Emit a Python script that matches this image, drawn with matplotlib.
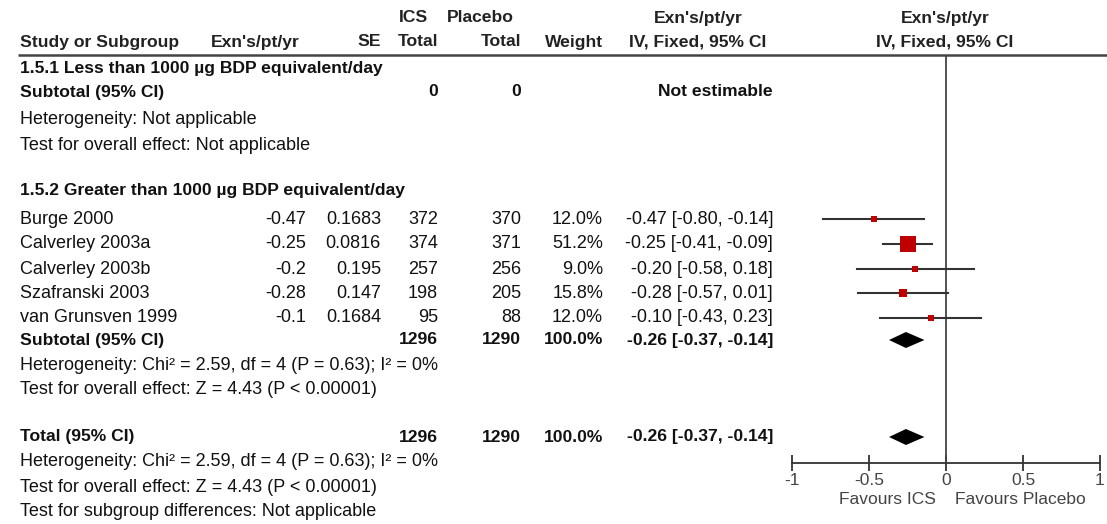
import matplotlib
matplotlib.use("Agg")
import matplotlib.pyplot as plt

plt.rcParams['font.family'] = ['Liberation Sans', 'DejaVu Sans']
plt.rcParams['axes.unicode_minus'] = False

# data
studies = ["Burge 2000", "Calverley 2003a", "Calverley 2003b", "Szafranski 2003", "van Grunsven 1999"]
exn = [-0.47, -0.25, -0.2, -0.28, -0.1]
se = [0.1683, 0.0816, 0.195, 0.147, 0.1684]
ics_total = [372, 374, 257, 198, 95]
pla_total = [370, 371, 256, 205, 88]
weight = [12.0, 51.2, 9.0, 15.8, 12.0]
ci_lo = [-0.80, -0.41, -0.58, -0.57, -0.43]
ci_hi = [-0.14, -0.09, 0.18, 0.01, 0.23]
pooled = [-0.26, -0.37, -0.14]  # estimate, low, high
ticks = [-1, -0.5, 0, 0.5, 1]
tick_labels = ["-1", "-0.5", "0", "0.5", "1"]

W, H = 1107, 524
fig = plt.figure(figsize=(W / 100, H / 100), dpi=100)
tab = fig.add_axes([0, 0, 1, 1])
tab.set_xlim(0, W)
tab.set_ylim(H, 0)
tab.axis('off')

FS = 13
FSB = 12.6
TXT = '#111111'


def put(x, y, s, ha='left', bold=False, color=TXT, size=None):
    if size is None:
        size = FSB if bold else FS
    tab.text(x, y, s, ha=ha, va='center', fontsize=size, color=color,
             fontweight='bold' if bold else 'normal')


# column right edges (px)
x_study = 20
x_exn, x_se, x_ics, x_pla, x_w, x_ci = 306, 381, 438, 521, 603, 773
x_ci_c = 698
x_plot_c = 945
HDR = '#222222'

# header
put(413, 18, "ICS", ha='center', bold=True, color=HDR)
put(447, 18, "Placebo", ha='left', bold=True, color=HDR)
put(x_ci_c, 18, "Exn's/pt/yr", ha='center', bold=True, color=HDR)
put(x_plot_c, 18, "Exn's/pt/yr", ha='center', bold=True, color=HDR)
put(x_study, 42, "Study or Subgroup", bold=True, color=HDR)
put(x_exn - 6, 42, "Exn's/pt/yr", ha='right', bold=True, color=HDR)
put(x_se, 42, "SE", ha='right', bold=True, color=HDR)
put(x_ics, 42, "Total", ha='right', bold=True, color=HDR)
put(x_pla, 42, "Total", ha='right', bold=True, color=HDR)
put(x_w, 42, "Weight", ha='right', bold=True, color=HDR)
put(x_ci_c, 42, "IV, Fixed, 95% CI", ha='center', bold=True, color=HDR)
put(x_plot_c, 42, "IV, Fixed, 95% CI", ha='center', bold=True, color=HDR)
tab.plot([18, W], [55, 55], color='#444444', lw=1.8, solid_capstyle='butt')

# subgroup 1.5.1
put(x_study, 68, "1.5.1 Less than 1000 µg BDP equivalent/day", bold=True)
put(x_study, 92, "Subtotal (95% CI)", bold=True)
put(x_ics, 92, "0", ha='right', bold=True)
put(x_pla, 92, "0", ha='right', bold=True)
put(x_ci, 92, "Not estimable", ha='right', bold=True)
put(x_study, 120, "Heterogeneity: Not applicable")
put(x_study, 145, "Test for overall effect: Not applicable")

# subgroup 1.5.2
put(x_study, 191, "1.5.2 Greater than 1000 µg BDP equivalent/day", bold=True)
rows = [219, 244, 269, 293, 318]
for i, y in enumerate(rows):
    put(x_study, y, studies[i])
    put(x_exn, y, str(exn[i]), ha='right')
    put(x_se, y, str(se[i]), ha='right')
    put(x_ics, y, str(ics_total[i]), ha='right')
    put(x_pla, y, str(pla_total[i]), ha='right')
    put(x_w, y, f"{weight[i]:.1f}%", ha='right')
    put(x_ci, y, f"{exn[i]:.2f} [{ci_lo[i]:.2f}, {ci_hi[i]:.2f}]", ha='right')

sub_txt = f"{pooled[0]:.2f} [{pooled[1]:.2f}, {pooled[2]:.2f}]"
for y, label in [(340, "Subtotal (95% CI)"), (437, "Total (95% CI)")]:
    put(x_study, y, label, bold=True)
    put(x_ics, y, str(sum(ics_total)), ha='right', bold=True)
    put(x_pla, y, str(sum(pla_total)), ha='right', bold=True)
    put(x_w, y, f"{sum(weight):.1f}%", ha='right', bold=True)
    put(x_ci, y, sub_txt, ha='right', bold=True)

het = "Heterogeneity: Chi² = 2.59, df = 4 (P = 0.63); I² = 0%"
eff = "Test for overall effect: Z = 4.43 (P < 0.00001)"
put(x_study, 366, het)
put(x_study, 390, eff)
put(x_study, 462, het)
put(x_study, 487, eff)
put(x_study, 511, "Test for subgroup differences: Not applicable")

# forest panel
x0, x1, ytop, ybot = 792, 1100, 55, 463
fax = fig.add_axes([x0 / W, 1 - ybot / H, (x1 - x0) / W, (ybot - ytop) / H])
fax.set_xlim(-1, 1)
fax.set_ylim(ybot, ytop)
fax.patch.set_alpha(0)
for s in ['top', 'left', 'right']:
    fax.spines[s].set_visible(False)
fax.spines['bottom'].set_color('#333333')
fax.spines['bottom'].set_linewidth(1.3)
fax.set_yticks([])
fax.set_xticks(ticks)
fax.set_xticklabels(tick_labels)
fax.tick_params(axis='x', direction='inout', length=12, width=1.3, color='#333333',
                labelcolor='#444444', labelsize=12.5, pad=1)
fax.axvline(0, color='#444444', lw=1.3)

for i, y in enumerate(rows):
    fax.plot([ci_lo[i], ci_hi[i]], [y, y], color='#333333', lw=1.5, zorder=2)
    side = 16 * (weight[i] / max(weight)) ** 0.62
    fax.scatter([exn[i]], [y], marker='s', s=(side * 0.72) ** 2, color='#c00000',
                linewidths=0, zorder=3)

for y in [340, 437]:
    fax.fill([pooled[1], pooled[0], pooled[2], pooled[0]], [y, y - 8, y, y + 8],
             color='black', lw=0, zorder=3, clip_on=False)

put(936, 500, "Favours ICS", ha='right', color='#444444', size=12.5)
put(955, 500, "Favours Placebo", ha='left', color='#444444', size=12.5)

fig.savefig("out.png", dpi=100)
